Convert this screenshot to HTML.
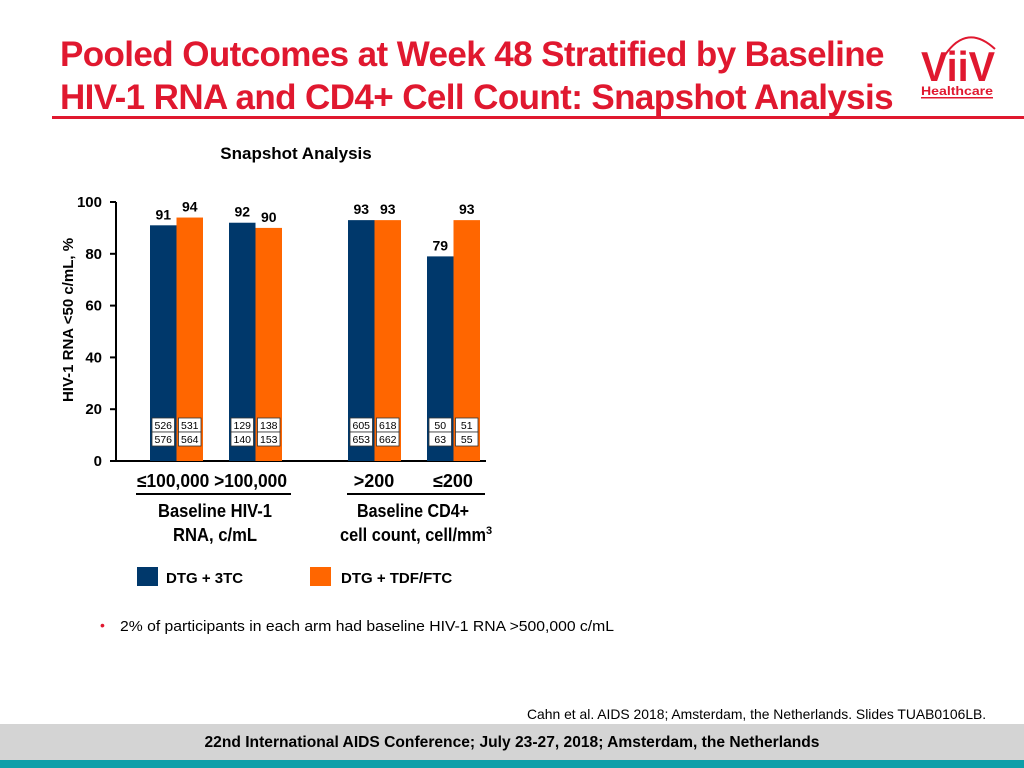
<!DOCTYPE html>
<html><head><meta charset="utf-8"><style>
body{margin:0;width:1024px;height:768px;position:relative;overflow:hidden;background:#fff;font-family:"Liberation Sans",Arial,sans-serif}
.abs{position:absolute}
.title{left:60px;top:33px;color:#e0182f;font-size:35px;font-weight:bold;line-height:43px;letter-spacing:-0.6px;white-space:nowrap}
</style></head><body>
<div class="abs title">Pooled Outcomes at Week 48 Stratified by Baseline<br>HIV-1 RNA and CD4+ Cell Count: Snapshot Analysis</div>
<div class="abs" style="left:52px;top:116px;width:972px;height:3px;background:#e0182f"></div>
<svg class="abs" style="left:915px;top:25px" width="90" height="80">
<path d="M30 30 Q52 -2 80 24" stroke="#e0182f" stroke-width="2" fill="none"/>
<text x="6" y="56" font-family="Liberation Sans" font-weight="bold" font-size="42" fill="#e0182f" textLength="74" lengthAdjust="spacingAndGlyphs">ViiV</text>
<text x="6" y="70" font-family="Liberation Sans" font-weight="bold" font-size="12" fill="#e0182f" textLength="72" lengthAdjust="spacingAndGlyphs">Healthcare</text>
<rect x="6" y="72" width="72" height="1.5" fill="#e0182f"/>
</svg>
<svg class="abs" style="left:0;top:0" width="1024" height="700" id="chart">
<text x="296" y="159" text-anchor="middle" font-weight="bold" font-size="17">Snapshot Analysis</text>
<text transform="translate(73,320) rotate(-90)" text-anchor="middle" font-weight="bold" font-size="15">HIV-1 RNA &lt;50 c/mL, %</text>
<g id="axes"></g><g id="bars"></g>
<text x="212" y="487" text-anchor="middle" font-weight="bold" font-size="18" textLength="150" lengthAdjust="spacingAndGlyphs">≤100,000 &gt;100,000</text>
<line x1="136" y1="494" x2="291" y2="494" stroke="#000" stroke-width="2"/>
<text x="215" y="517" text-anchor="middle" font-weight="bold" font-size="18" textLength="114" lengthAdjust="spacingAndGlyphs">Baseline HIV-1</text>
<text x="215" y="541" text-anchor="middle" font-weight="bold" font-size="18" textLength="84" lengthAdjust="spacingAndGlyphs">RNA, c/mL</text>
<text x="374" y="487" text-anchor="middle" font-weight="bold" font-size="18">&gt;200</text>
<text x="453" y="487" text-anchor="middle" font-weight="bold" font-size="18">≤200</text>
<line x1="347" y1="494" x2="485" y2="494" stroke="#000" stroke-width="2"/>
<text x="413" y="517" text-anchor="middle" font-weight="bold" font-size="18" textLength="112" lengthAdjust="spacingAndGlyphs">Baseline CD4+</text>
<text x="340" y="541" font-weight="bold" font-size="18"><tspan textLength="146" lengthAdjust="spacingAndGlyphs">cell count, cell/mm</tspan><tspan font-size="11" dy="-7">3</tspan></text>
<rect x="137" y="567" width="21" height="19" fill="#00386b"/>
<text x="166" y="583" font-weight="bold" font-size="15">DTG + 3TC</text>
<rect x="310" y="567" width="21" height="19" fill="#ff6600"/>
<text x="341" y="583" font-weight="bold" font-size="15">DTG + TDF/FTC</text>
<text x="100" y="630" font-size="14" fill="#e0182f">•</text>
<text x="120" y="631" font-size="15" textLength="494" lengthAdjust="spacingAndGlyphs">2% of participants in each arm had baseline HIV-1 RNA &gt;500,000 c/mL</text>
</svg>
<div class="abs" style="left:527px;top:706px;width:467px;font-size:13.9px;white-space:nowrap">Cahn et al. AIDS 2018; Amsterdam, the Netherlands. Slides TUAB0106LB.</div>
<div class="abs" style="left:0;top:724px;width:1024px;height:36px;background:#d4d4d4;text-align:center;line-height:38px;font-weight:bold;font-size:15.6px">22nd International AIDS Conference; July 23-27, 2018; Amsterdam, the Netherlands</div>
<div class="abs" style="left:0;top:760px;width:1024px;height:8px;background:#0e9fa9"></div>
<script>
const categories=["≤100,000",">100,000",">200","≤200"];
const dtg3tc=[91,92,93,79];
const dtgTdf=[94,90,93,93];
const nNum3tc=[526,129,605,50],nDen3tc=[576,140,653,63];
const nNumTdf=[531,138,618,51],nDenTdf=[564,153,662,55];
const yTicks=[0,20,40,60,80,100];
const NS="http://www.w3.org/2000/svg";
const y=v=>461-v*2.59;
const groupX=[150,229,348,427], bw=26.5;
function mk(t,a,p,txt){const e=document.createElementNS(NS,t);for(const k in a)e.setAttribute(k,a[k]);if(txt!==undefined)e.textContent=txt;p.appendChild(e);return e;}
const ax=document.getElementById('axes'),bars=document.getElementById('bars');
mk('line',{x1:116,y1:y(100),x2:116,y2:461,stroke:'#000','stroke-width':2},ax);
mk('line',{x1:116,y1:461,x2:486,y2:461,stroke:'#000','stroke-width':2},ax);
yTicks.forEach(t=>{mk('line',{x1:110,y1:y(t),x2:116,y2:y(t),stroke:'#000','stroke-width':2},ax);
const l=mk('text',{x:102,y:y(t)+5,'text-anchor':'end','font-weight':'bold','font-size':15},ax,String(t));

});
function box(x,yy,txt){mk('rect',{x:x+2,y:yy,width:bw-4,height:14,fill:'#fff',stroke:'#333','stroke-width':0.8},bars);
mk('text',{x:x+bw/2,y:yy+11,'text-anchor':'middle','font-size':10.5},bars,String(txt));}
categories.forEach((c,i)=>{
[[dtg3tc,'#00386b',0,nNum3tc,nDen3tc],[dtgTdf,'#ff6600',bw,nNumTdf,nDenTdf]].forEach(([s,col,off,nu,de],j)=>{
const x=groupX[i]+off,v=s[i];
const r=mk('rect',{x:x,y:y(v),width:bw,height:461-y(v),fill:col},bars);


mk('text',{x:x+bw/2,y:y(v)-6,'text-anchor':'middle','font-weight':'bold','font-size':14},bars,String(v));
box(x,418,nu[i]);box(x,432,de[i]);
});});
</script>
</body></html>
